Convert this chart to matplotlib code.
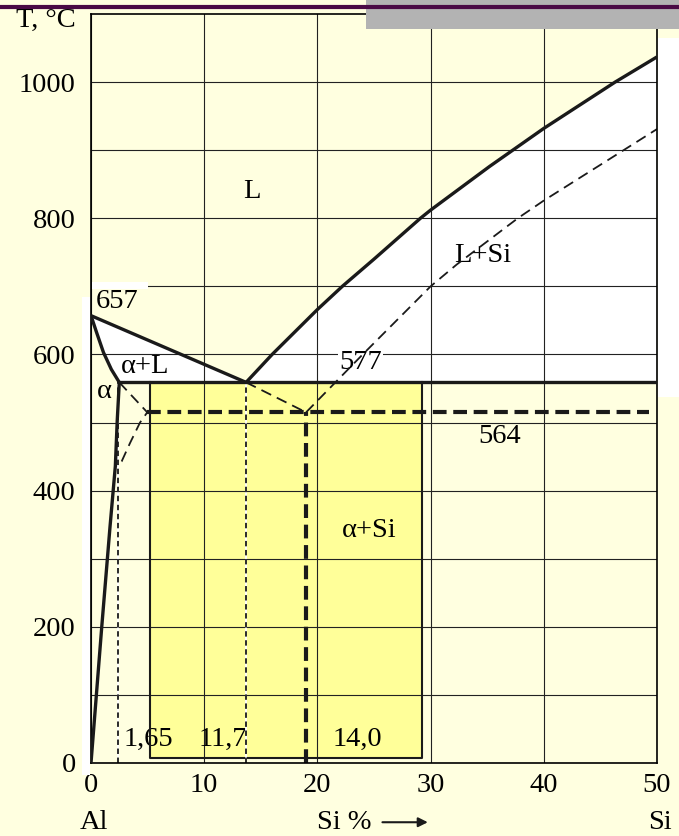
import matplotlib
matplotlib.use('Agg')
import matplotlib.pyplot as plt
from matplotlib.patches import Rectangle, Polygon
from matplotlib.lines import Line2D

plt.rcParams['font.family'] = ['Liberation Serif', 'DejaVu Serif']

# Al-Si phase diagram, Si in %, T in deg C
x_ticks = [0, 10, 20, 30, 40, 50]
y_ticks = [0, 200, 400, 600, 800, 1000]

liq_al_x = [0, 13.7]
liq_al_t = [657, 559]
liq_si_x = [13.7, 16.0, 20, 22.2, 25, 29.1, 30, 35.2, 40, 46.3, 50]
liq_si_t = [559, 600, 666, 700, 740, 800, 812, 876, 932, 1000, 1037]
solidus_x = [0, 0.5, 1.1, 1.8, 2.5]
solidus_t = [657, 632, 603, 578, 559]
solvus_x = [2.5, 2.32, 2.15, 1.68, 0.95, 0]
solvus_t = [559, 504, 436, 347, 200, 0]
eut_x = [2.5, 50]
eut_t = [559, 559]

# metastable (dashed) lines
meta_liq_x = [19.0, 24.0, 30, 32.3, 37.7, 40, 50]
meta_liq_t = [515, 600, 700, 732, 800, 826, 931]
meta_solv_x = [2.5, 4.97, 4.33, 3.45, 2.71, 2.2]
meta_solv_t = [559, 515, 500, 470, 443, 436]
meta_eut_x = [13.7, 19.0]
meta_eut_t = [559, 515]
meta_t = 515
meta_line_x = [4.97, 49.3]
meta_si_x = 19.0
alloy_x = [2.4, 13.7]  # thin dashed verticals

# alpha+Si box
box_x = [5.2, 29.2]
box_t = [8, 559]

labels = [
    ("L", 14.2, 840), ("L+Si", 34.6, 746), ("657", 2.3, 678),
    ("α+L", 4.8, 582), ("α", 1.2, 545), ("577", 23.8, 588),
    ("564", 36.1, 479), ("α+Si", 24.6, 341),
    ("1,65", 5.1, 34), ("11,7", 11.6, 34), ("14,0", 23.5, 34),
]

bg = '#FFFFE0'
yel = '#FFFF99'
fs = 20.5

fig = plt.figure(figsize=(6.79, 8.36), dpi=100, facecolor=bg)
W, H = 679, 836
ax = fig.add_axes([91 / W, 1 - 763 / H, 566 / W, 749 / H])
ax.set_facecolor(bg)
ax.set_xlim(0, 50)
ax.set_ylim(0, 1100)

# fills
ax.add_patch(Polygon(list(zip(solidus_x[::-1] + liq_al_x, solidus_t[::-1] + liq_al_t)),
                     closed=True, facecolor='white', edgecolor='none', zorder=0.2))
ax.add_patch(Polygon(list(zip(liq_si_x + [50, 13.7], liq_si_t + [559, 559])),
                     closed=True, facecolor='white', edgecolor='none', zorder=0.2))
ax.add_patch(Rectangle((box_x[0], box_t[0]), box_x[1] - box_x[0], box_t[1] - box_t[0],
                       facecolor=yel, edgecolor='none', zorder=0.2))

# grid
ax.set_xticks(x_ticks)
ax.set_yticks(y_ticks)
ax.set_yticks(range(100, 1100, 200), minor=True)
ax.set_axisbelow(True)
ax.grid(True, which='both', color='#222222', lw=0.8)
ax.tick_params(which='both', length=0, labelsize=fs)
ax.tick_params(axis='y', pad=11)
ax.tick_params(axis='x', pad=7)
for s in ax.spines.values():
    s.set_linewidth(1.2)

# white patch over the 700 gridline near 657
ax.add_patch(Rectangle((0.1, 696), 4.9, 11, facecolor='white', edgecolor='none', zorder=1.2))

# box edges
ax.plot([box_x[0], box_x[0], box_x[1], box_x[1]], [box_t[1], box_t[0], box_t[0], box_t[1]],
        color='#1a1a1a', lw=1.5, zorder=2)

# thin dashed verticals
for xv in alloy_x:
    ax.plot([xv, xv], [0, 559], color='white', lw=1.3, zorder=2.1)
    ax.plot([xv, xv], [0, 559], color='#1a1a1a', lw=1.3, dashes=(3, 2), zorder=2.2)

# metastable dashed lines
for xs, ts in [(meta_liq_x, meta_liq_t), (meta_solv_x, meta_solv_t), (meta_eut_x, meta_eut_t)]:
    ax.plot(xs, ts, color='#1a1a1a', lw=1.3, dashes=(6, 3.5), zorder=2.3)
ax.plot(meta_line_x, [meta_t, meta_t], color='#1a1a1a', lw=3, dashes=(3.3, 1.6), zorder=2.4)
ax.plot([meta_si_x, meta_si_x], [0, meta_t], color='#1a1a1a', lw=3, dashes=(3.3, 1.6), zorder=2.4)

# equilibrium lines
for xs, ts in [(liq_al_x, liq_al_t), (liq_si_x, liq_si_t), (solidus_x, solidus_t),
               (solvus_x, solvus_t), (eut_x, eut_t)]:
    ax.plot(xs, ts, color='#1a1a1a', lw=2.4, zorder=3, solid_capstyle='butt',
            solid_joinstyle='round')

for txt, x, t in labels:
    kw = {}
    if txt in ("577", "L+Si"):
        kw['bbox'] = dict(facecolor='white', edgecolor='none', pad=1)
    ax.text(x, t, txt, fontsize=fs, ha='center', va='center', zorder=1.5, **kw)

# axis captions under the x tick labels
ax.text(0.3, -87, "Al", fontsize=fs, ha='center', va='center', clip_on=False)
ax.text(22.4, -87, "Si %", fontsize=fs, ha='center', va='center', clip_on=False)
ax.text(50.3, -87, "Si", fontsize=fs, ha='center', va='center', clip_on=False)
ax.annotate('', xy=(30.0, -87), xytext=(25.5, -87), annotation_clip=False,
            arrowprops=dict(arrowstyle='-|>', color='#1a1a1a', lw=1.5, mutation_scale=14))

fig.text(46 / W, 1 - 8 / H, "T, °C", fontsize=fs, ha='center', va='top')

# slide decorations
fig.add_artist(Rectangle((366 / W, 1 - 29 / H), 313 / W, 29 / H, transform=fig.transFigure,
                         facecolor='#B3B3B3', edgecolor='none', zorder=1))
fig.add_artist(Line2D([0, 1], [1 - 7 / H, 1 - 7 / H], transform=fig.transFigure,
                      color='#4A0A45', lw=3, zorder=2))
fig.add_artist(Rectangle((82 / W, 1 - 775 / H), 8 / W, 478 / H, transform=fig.transFigure,
                         facecolor='white', edgecolor='none', zorder=1))
fig.add_artist(Rectangle((658 / W, 1 - 397 / H), 21 / W, 359 / H, transform=fig.transFigure,
                         facecolor='white', edgecolor='none', zorder=1))

fig.savefig('out.png', dpi=100, facecolor=bg)
